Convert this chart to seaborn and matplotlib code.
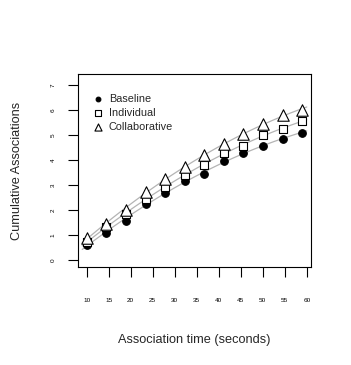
import numpy as np
import pandas as pd
import matplotlib
matplotlib.use("Agg")
import matplotlib.pyplot as plt
import seaborn as sns

# values
seconds = [10, 14.5, 18.9, 23.4, 27.8, 32.3, 36.7, 41.2, 45.6, 50.1, 54.5, 59]
baseline = [0.63, 1.11, 1.59, 2.25, 2.68, 3.17, 3.47, 3.96, 4.29, 4.59, 4.87, 5.11]
individual = [0.73, 1.33, 1.84, 2.47, 2.95, 3.43, 3.80, 4.29, 4.59, 5.03, 5.27, 5.56]
collaborative = [0.89, 1.47, 2.03, 2.73, 3.24, 3.73, 4.23, 4.64, 5.04, 5.47, 5.80, 6.03]
conditions = ["Baseline", "Individual", "Collaborative"]
x_ticks = [10, 15, 20, 25, 30, 35, 40, 45, 50, 55, 60]
y_ticks = [0, 1, 2, 3, 4, 5, 6, 7]

sns.set_style("white")
plt.rcParams["font.family"] = ["Liberation Sans", "DejaVu Sans"]

df = pd.DataFrame(
    {
        "seconds": seconds * 3,
        "assoc": baseline + individual + collaborative,
        "condition": np.repeat(conditions, len(seconds)),
    }
)

fig = plt.figure(figsize=(3.51, 3.65), dpi=100)
ax = fig.add_axes([0.2222, 0.2685, 0.6638, 0.5285])

# quadratic fits drawn as grey curves
xs = np.linspace(9, 60, 80)
for cond in conditions:
    d = df.query("condition == @cond")
    coef = np.polyfit(d["seconds"], d["assoc"], 2)
    sns.lineplot(x=xs, y=np.polyval(coef, xs), color="#b4b4b4", lw=0.9, ax=ax, sort=False)

markers = {"Baseline": "o", "Individual": "s", "Collaborative": "^"}
sizes = {"Baseline": 30, "Individual": 36, "Collaborative": 68}
for cond in conditions:
    d = df.query("condition == @cond")
    filled = cond == "Baseline"
    ax.scatter(
        d["seconds"], d["assoc"], marker=markers[cond], s=sizes[cond],
        facecolors="black" if filled else "white", edgecolors="black",
        linewidths=0.8, zorder=3, label=cond,
    )

ax.set_xlim(8.04, 60.96)
ax.set_ylim(-0.27, 7.45)
ax.set_xticks(x_ticks)
ax.set_yticks(y_ticks)
ax.set_xticklabels([str(t) for t in x_ticks], fontsize=4.6)
ax.set_yticklabels([str(t) for t in y_ticks], fontsize=4.6, rotation=90, va="center")
ax.tick_params(axis="x", direction="out", length=7, width=0.8, pad=15, bottom=True, colors="black")
ax.tick_params(axis="y", direction="out", length=7, width=0.8, pad=9, left=True, colors="black")
ax.set_xlabel("Association time (seconds)", fontsize=9.2, labelpad=23)
ax.set_ylabel("Cumulative Associations", fontsize=9.2, labelpad=20)
for s in ax.spines.values():
    s.set_color("black")
    s.set_linewidth(0.8)

ax.legend(
    loc="upper left", bbox_to_anchor=(0.02, 0.92), frameon=False, fontsize=7.8,
    handletextpad=0.0, labelspacing=0.38, markerscale=0.62, borderaxespad=0,
)

fig.savefig("out.png", dpi=100)
